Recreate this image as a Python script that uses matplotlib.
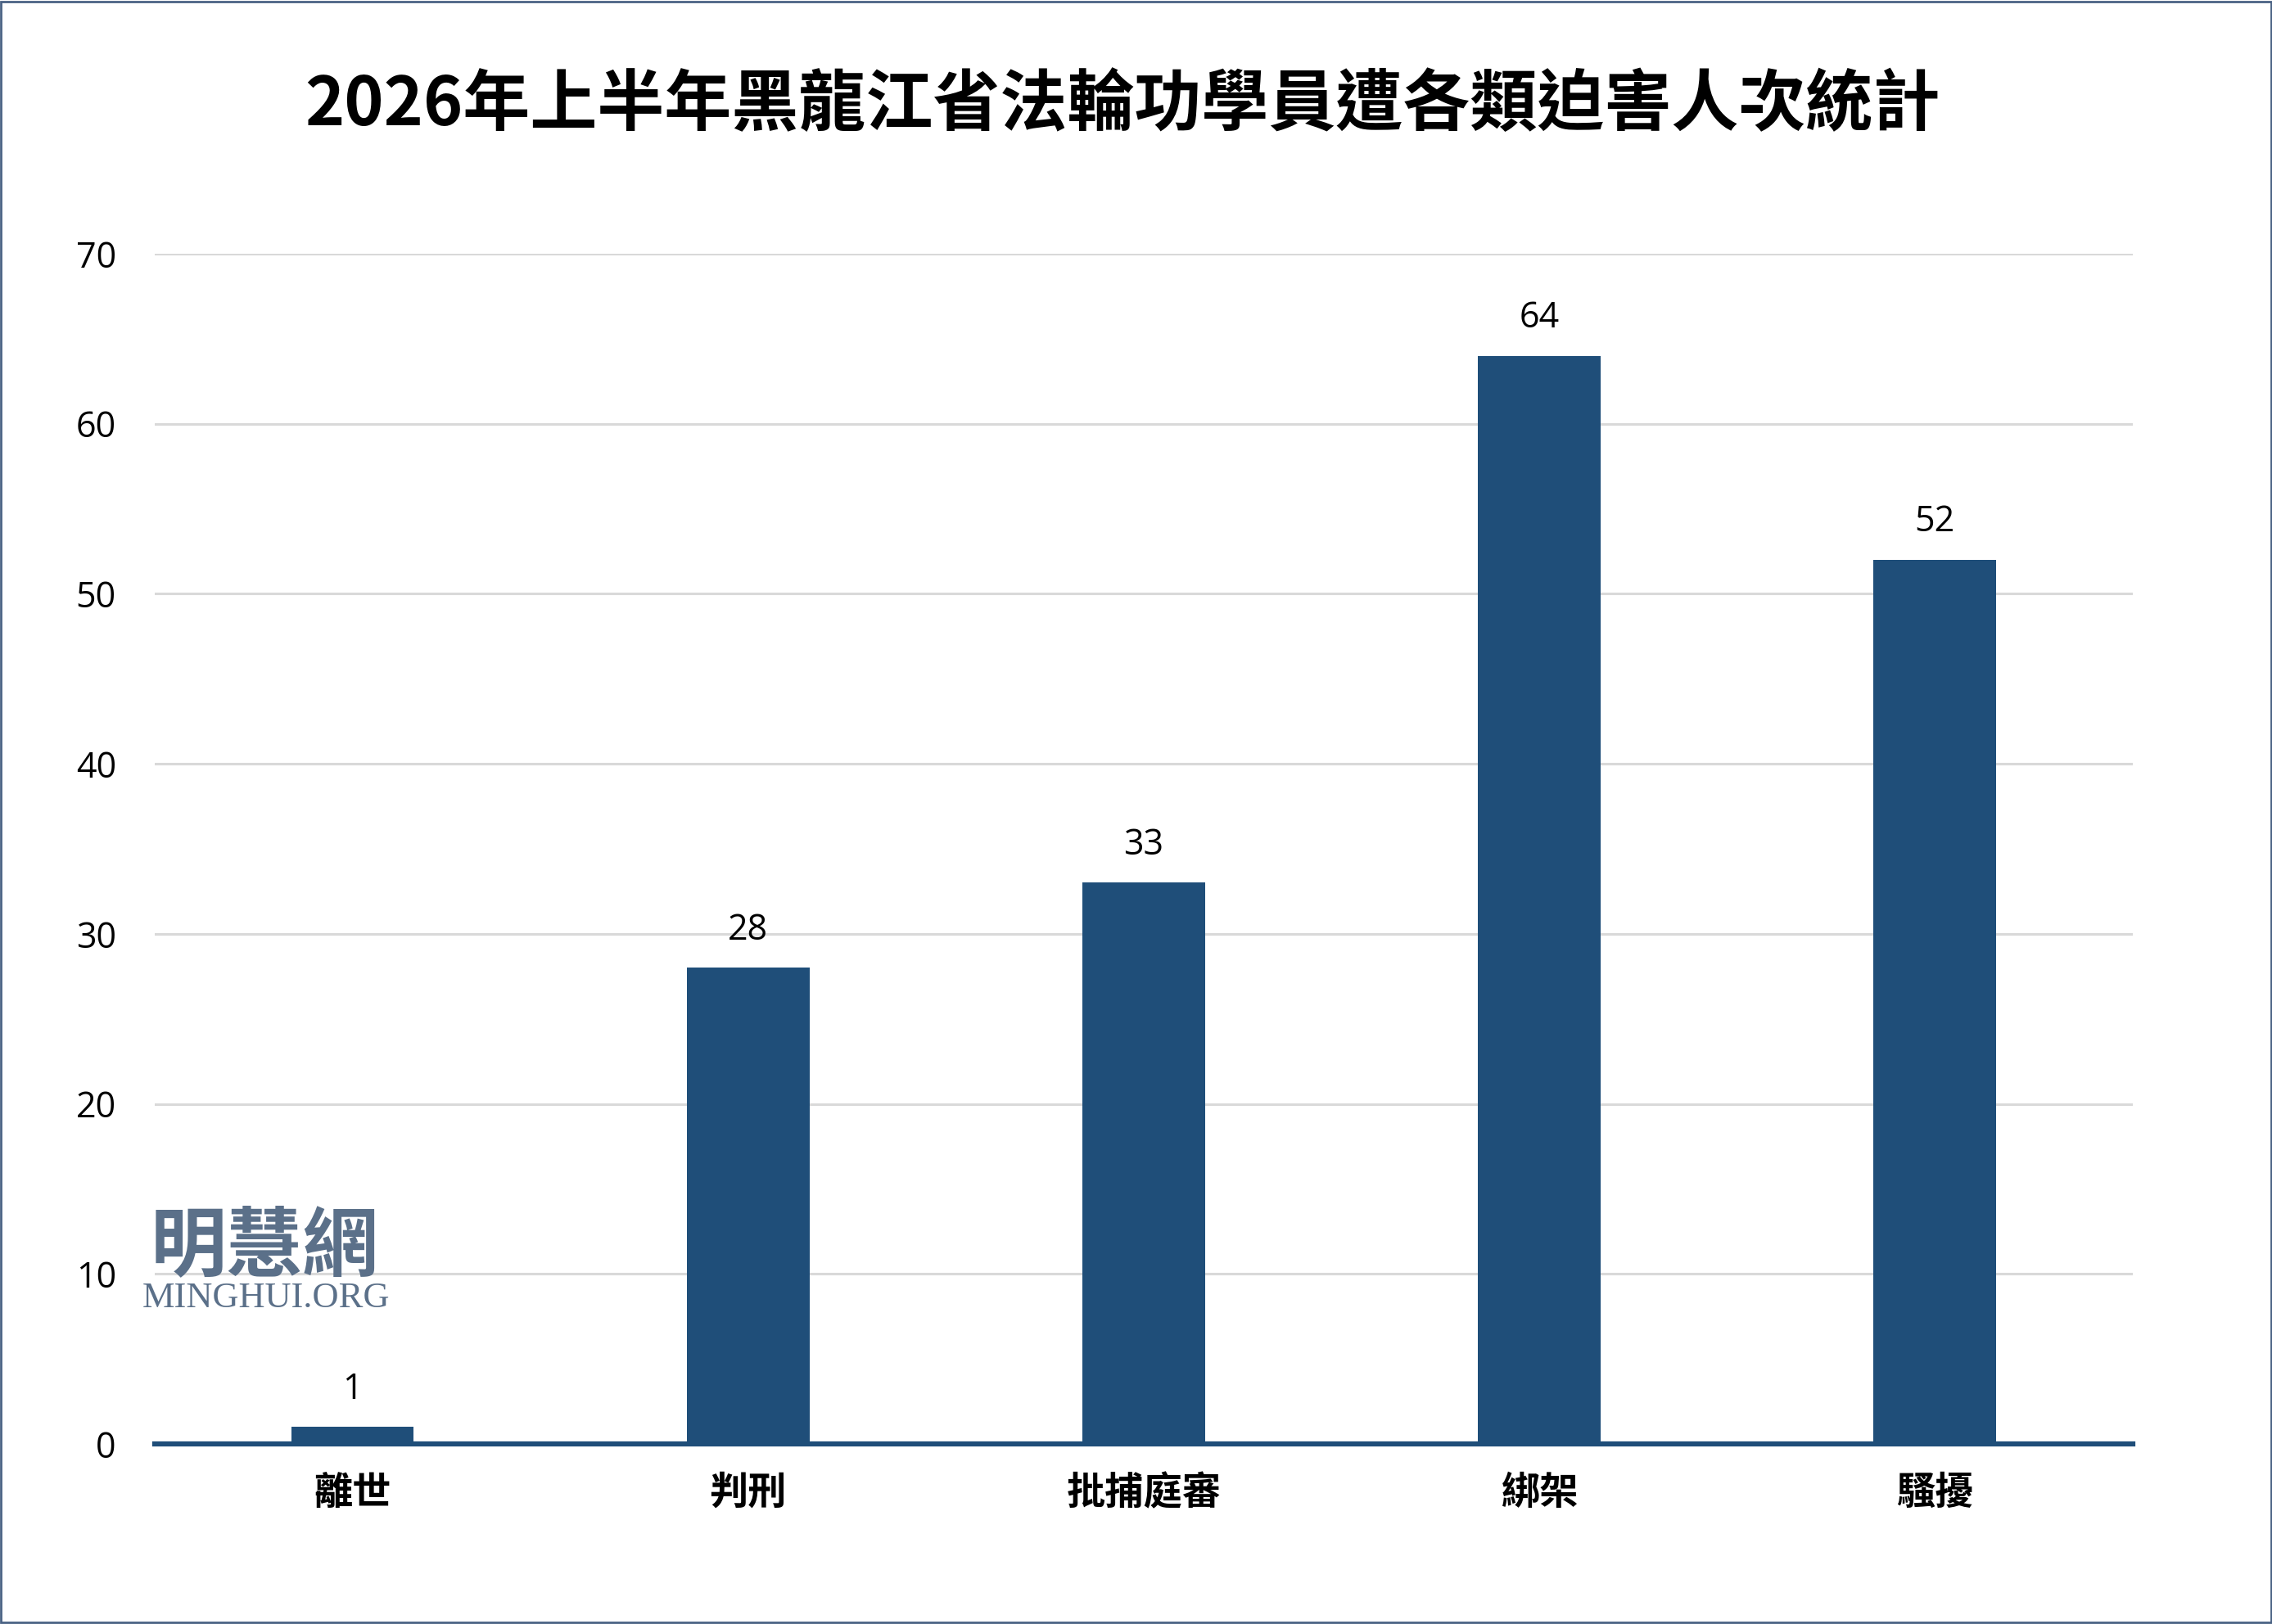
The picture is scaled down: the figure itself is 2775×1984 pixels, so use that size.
import matplotlib
matplotlib.use("Agg")
import matplotlib.pyplot as plt
from matplotlib.patches import Rectangle

# data
categories = ["離世", "判刑", "批捕庭審", "綁架", "騷擾"]
counts = [1, 28, 33, 64, 52]
y_ticks = [0, 10, 20, 30, 40, 50, 60, 70]
title = "2026年上半年黑龍江省法輪功學員遭各類迫害人次統計"

BAR_COLOR = "#1f4e79"
CJK = ["Noto Sans CJK TC", "DejaVu Sans"]
NUM_FONT = ["Open Sans", "DejaVu Sans"]

fig = plt.figure(figsize=(27.75, 19.84), dpi=100)
ax = fig.add_axes([0.0681, 0.1109, 0.8706, 0.7329])

x = list(range(len(categories)))
ax.bar(x, counts, width=0.31, color=BAR_COLOR, zorder=3)

for xi, v in zip(x, counts):
    ax.annotate(str(v), (xi, v), xytext=(0, 17), textcoords="offset points",
                ha="center", va="bottom", fontsize=31, family=NUM_FONT)

ax.set_xlim(-0.5, len(categories) - 0.5)
ax.set_ylim(0, 70)
ax.set_yticks(y_ticks)
ax.set_yticklabels([str(t) for t in y_ticks], family=NUM_FONT, fontsize=31)
ax.set_xticks(x)
ax.set_xticklabels(categories, family=CJK, fontsize=34, fontweight="black")
ax.tick_params(axis="y", length=0, pad=34)
ax.tick_params(axis="x", length=0, pad=26)

ax.grid(axis="y", color="#d9d9d9", linewidth=2.2, zorder=0)
for side in ["left", "right", "top"]:
    ax.spines[side].set_visible(False)
ax.spines["bottom"].set_color(BAR_COLOR)
ax.spines["bottom"].set_linewidth(4.5)
ax.spines["bottom"].set_zorder(4)

fig.text(0.494, 0.935, title, ha="center", va="center", fontsize=59,
         fontweight="black", family=CJK)

# watermark
fig.text(0.1165, 0.232, "明慧網", ha="center", va="center", fontsize=67,
         fontweight="bold", family=CJK, color="#5b7089")
fig.text(0.117, 0.2005, "MINGHUI.ORG", ha="center", va="center", fontsize=32,
         family=["Liberation Serif", "DejaVu Serif"], color="#5b7089")

# thin frame around the whole picture
fig.patches.append(Rectangle((0.0005, 0.0008), 0.999, 0.9984, transform=fig.transFigure,
                             fill=False, edgecolor="#4a6284", linewidth=2))

fig.savefig("out.png", dpi=100, facecolor="white")
